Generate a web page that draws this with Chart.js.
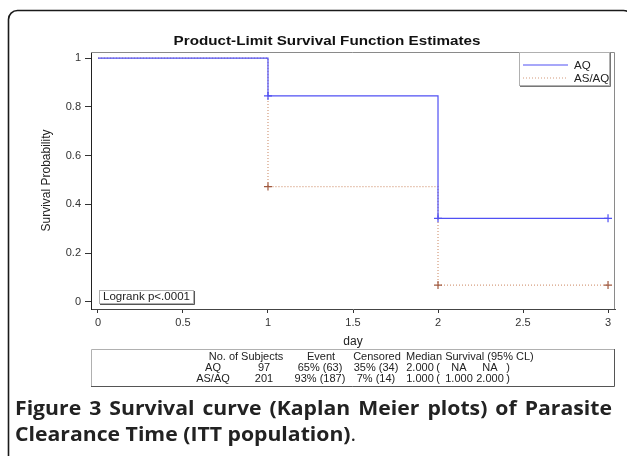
<!DOCTYPE html>
<html>
<head>
<meta charset="utf-8">
<script src="https://cdn.jsdelivr.net/npm/chart.js@4/dist/chart.umd.min.js"></script>
<style>
  html, body { margin: 0; padding: 0; background: #fff; }
  #km { display: block; }
</style>
</head>
<body>
<canvas id="km" width="627" height="456"></canvas>
<script>
// Kaplan-Meier estimates
const days = [0, 1, 2, 3];
const survAQ = [1, 0.845, 0.343, 0.343];
const survASAQ = [1, 0.473, 0.069, 0.069];
const markAQ = [0, 1, 1, 1];      // censor / step marks ("+")
const markASAQ = [0, 1, 1, 1];
const seriesNames = ['AQ', 'AS/AQ'];

const xTicks = [0, 0.5, 1, 1.5, 2, 2.5, 3];
const yTicks = [0, 0.2, 0.4, 0.6, 0.8, 1];

const chartTitle = 'Product-Limit Survival Function Estimates';
const xTitle = 'day';
const yTitle = 'Survival Probability';
const logrankText = 'Logrank p<.0001';

// summary table below the axis
const tableHeader = ['No. of Subjects', 'Event', 'Censored', 'Median Survival (95% CL)'];
const rowAQ = ['AQ', '97', '65% (63)', '35% (34)'];
const rowASAQ = ['AS/AQ', '201', '93% (187)', '7% (14)'];
const medianAQ = ['2.000', 'NA', 'NA'];
const medianASAQ = ['1.000', '1.000', '2.000'];

const captionBold1 = 'Figure 3 Survival curve (Kaplan Meier plots) of Parasite';
const captionBold2 = 'Clearance Time (ITT population)';
const captionTail = '.';

const BLUE = '#5050f4';
const BROWN_LINE = '#d49a7a';
const BROWN_MARK = '#a05a40';
const AXIS_FONT = 'Arial, "Liberation Sans", sans-serif';

const toPoints = (ys) => days.map((d, i) => ({ x: d, y: ys[i] }));

// the original figure is a little wider than tall, so its text is stretched
function stretchText(ctx, text, x, y, sx, align) {
    const w = ctx.measureText(text).width * sx;
    let left = x;
    if (align === 'center') left = x - w / 2;
    if (align === 'right') left = x - w;
    ctx.save();
    ctx.textAlign = 'left';
    ctx.translate(left, y);
    ctx.scale(sx, 1);
    ctx.fillText(text, 0, 0);
    ctx.restore();
    return w;
}

// -------- extra drawing: frame, title, legend, logrank box, table, caption
const decorations = {
    id: 'decorations',
    afterDraw(chart) {
        const ctx = chart.ctx;
        const a = chart.chartArea;
        ctx.save();

        // outer rounded frame (runs off the right and bottom edge)
        ctx.strokeStyle = '#1a1a1a';
        ctx.lineWidth = 1.6;
        ctx.beginPath();
        ctx.roundRect(8.5, 10.5, 624, 470, 9);
        ctx.stroke();

        // gray top / right plot frame
        ctx.strokeStyle = '#8a8a8a';
        ctx.lineWidth = 1;
        ctx.beginPath();
        ctx.moveTo(a.left, a.top + 0.5);
        ctx.lineTo(a.right - 0.5, a.top + 0.5);
        ctx.lineTo(a.right - 0.5, a.bottom);
        ctx.stroke();

        // title
        ctx.fillStyle = '#111';
        ctx.font = 'bold 13px ' + AXIS_FONT;
        ctx.textBaseline = 'middle';
        stretchText(ctx, chartTitle, 327, 41, 1.17, 'center');

        // legend box
        const lx = 519, ly = a.top, lw = 90, lh = 33;
        ctx.fillStyle = '#fff';
        ctx.fillRect(lx, ly, lw, lh);
        ctx.lineWidth = 1;
        ctx.strokeStyle = '#b0b0b0';
        ctx.strokeRect(lx + 0.5, ly + 0.5, lw, lh);
        ctx.strokeStyle = '#777';
        ctx.beginPath();
        ctx.moveTo(lx + lw + 1.5, ly + 1);
        ctx.lineTo(lx + lw + 1.5, ly + lh + 1.5);
        ctx.lineTo(lx + 1, ly + lh + 1.5);
        ctx.stroke();
        ctx.font = '10.5px ' + AXIS_FONT;
        const legendStyles = [
            { color: BLUE, dash: [] },
            { color: BROWN_LINE, dash: [1, 2] }
        ];
        seriesNames.forEach((name, i) => {
            const y = ly + 13 + i * 13;
            ctx.strokeStyle = legendStyles[i].color;
            ctx.setLineDash(legendStyles[i].dash);
            ctx.lineWidth = 1.2;
            ctx.beginPath();
            ctx.moveTo(lx + 4, y);
            ctx.lineTo(lx + 49, y);
            ctx.stroke();
            ctx.setLineDash([]);
            ctx.fillStyle = '#222';
            stretchText(ctx, name, lx + 55, y + 1, 1.1, 'left');
        });

        // logrank box
        ctx.font = '10.5px ' + AXIS_FONT;
        const tw = ctx.measureText(logrankText).width * 1.1;
        const bx = 99, by = 290, bh = 13;
        ctx.strokeStyle = '#b0b0b0';
        ctx.lineWidth = 1;
        ctx.strokeRect(bx + 0.5, by + 0.5, tw + 7, bh);
        ctx.strokeStyle = '#555';
        ctx.beginPath();
        ctx.moveTo(bx + tw + 8.5, by + 1);
        ctx.lineTo(bx + tw + 8.5, by + bh + 1.5);
        ctx.lineTo(bx + 1, by + bh + 1.5);
        ctx.stroke();
        ctx.fillStyle = '#222';
        stretchText(ctx, logrankText, bx + 4, by + bh / 2 + 1, 1.1, 'left');

        // summary table
        const tTop = 349, tBot = 386;
        ctx.strokeStyle = '#b0b0b0';
        ctx.beginPath();
        ctx.moveTo(a.left + 0.5, tBot);
        ctx.lineTo(a.left + 0.5, tTop + 0.5);
        ctx.lineTo(a.right - 0.5, tTop + 0.5);
        ctx.stroke();
        ctx.strokeStyle = '#555';
        ctx.beginPath();
        ctx.moveTo(a.right - 0.5, tTop);
        ctx.lineTo(a.right - 0.5, tBot + 0.5);
        ctx.lineTo(a.left, tBot + 0.5);
        ctx.stroke();

        ctx.fillStyle = '#222';
        ctx.font = '10px ' + AXIS_FONT;
        const sx = 1.1;
        const colX = [213, 264, 320, 376];
        const hY = 357, r1 = 368, r2 = 379;
        stretchText(ctx, tableHeader[0], 246, hY, sx, 'center');
        stretchText(ctx, tableHeader[1], 321, hY, sx, 'center');
        stretchText(ctx, tableHeader[2], 377, hY, sx, 'center');
        stretchText(ctx, tableHeader[3], 406, hY, sx, 'left');
        [rowAQ, rowASAQ].forEach((row, ri) => {
            const y = ri === 0 ? r1 : r2;
            row.forEach((cell, ci) => stretchText(ctx, cell, colX[ci], y, sx, 'center'));
        });
        [medianAQ, medianASAQ].forEach((m, ri) => {
            const y = ri === 0 ? r1 : r2;
            stretchText(ctx, m[0], 420, y, sx, 'center');
            stretchText(ctx, '(', 438, y, sx, 'center');
            stretchText(ctx, m[1], 459, y, sx, 'center');
            stretchText(ctx, m[2], 490, y, sx, 'center');
            stretchText(ctx, ')', 508, y, sx, 'center');
        });

        // caption, first line justified
        ctx.fillStyle = '#222';
        ctx.textBaseline = 'alphabetic';
        ctx.font = 'bold 20px "Open Sans", sans-serif';
        const csx = 1.06;
        const words = captionBold1.split(' ');
        const x0 = 15, x1 = 612;
        const wordsW = words.reduce((s, w) => s + ctx.measureText(w).width * csx, 0);
        const gap = (x1 - x0 - wordsW) / (words.length - 1);
        let cx = x0;
        words.forEach(w => {
            cx += stretchText(ctx, w, cx, 415, csx, 'left') + gap;
        });
        const w2 = stretchText(ctx, captionBold2, x0, 441, csx, 'left');
        ctx.font = '20px "Open Sans", sans-serif';
        stretchText(ctx, captionTail, x0 + w2, 441, csx, 'left');

        ctx.restore();
    }
};

new Chart(document.getElementById('km'), {
    type: 'line',
    data: {
        datasets: [
            {
                label: seriesNames[0],
                data: toPoints(survAQ),
                stepped: true,
                borderColor: BLUE,
                borderWidth: 1.2,
                pointStyle: 'cross',
                pointRadius: markAQ.map(m => m ? 4 : 0),
                pointBorderColor: BLUE,
                pointBorderWidth: 1.2,
                fill: false
            },
            {
                label: seriesNames[1],
                data: toPoints(survASAQ),
                stepped: true,
                borderColor: BROWN_LINE,
                borderDash: [1, 2],
                borderWidth: 1.2,
                pointStyle: 'cross',
                pointRadius: markASAQ.map(m => m ? 4 : 0),
                pointBorderColor: BROWN_MARK,
                pointBorderWidth: 1.2,
                fill: false
            }
        ]
    },
    options: {
        responsive: false,
        animation: false,
        devicePixelRatio: 1,
        layout: { padding: { top: 52, right: 12, bottom: 107, left: 0 } },
        plugins: {
            legend: { display: false },
            title: { display: false },
            tooltip: { enabled: false }
        },
        scales: {
            x: {
                type: 'linear',
                min: -0.041,
                max: 3.041,
                afterFit: s => { s.height = 40; },
                afterBuildTicks: s => { s.ticks = xTicks.map(v => ({ value: v })); },
                ticks: {
                    color: '#333',
                    font: { family: AXIS_FONT, size: 11 },
                    padding: 3,
                    maxRotation: 0,
                    callback: v => String(v)
                },
                grid: { drawOnChartArea: false, tickLength: 4, color: '#333' },
                border: { color: '#444', width: 1 },
                title: {
                    display: true,
                    text: xTitle,
                    color: '#222',
                    font: { family: AXIS_FONT, size: 12 },
                    padding: { top: 0, bottom: 0 }
                }
            },
            y: {
                type: 'linear',
                min: -0.029,
                max: 1.025,
                afterFit: s => { s.width = 91; },
                afterBuildTicks: s => { s.ticks = yTicks.map(v => ({ value: v })); },
                ticks: {
                    color: '#333',
                    font: { family: AXIS_FONT, size: 11 },
                    padding: 4,
                    callback: v => String(v)
                },
                grid: { drawOnChartArea: false, tickLength: 6, color: '#333' },
                border: { color: '#222', width: 1 },
                title: {
                    display: true,
                    text: yTitle,
                    color: '#222',
                    font: { family: AXIS_FONT, size: 12 },
                    padding: { top: 39, bottom: 0 }
                }
            }
        }
    },
    plugins: [decorations]
});
</script>
</body>
</html>
